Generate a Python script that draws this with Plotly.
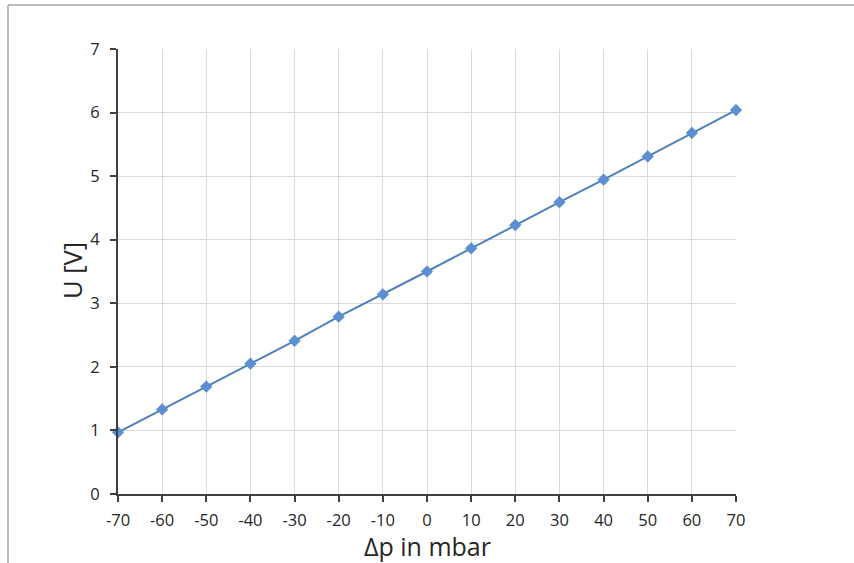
import plotly.graph_objects as go

dp_mbar = [-70, -60, -50, -40, -30, -20, -10, 0, 10, 20, 30, 40, 50, 60, 70]
u_volt = [0.97, 1.33, 1.69, 2.05, 2.41, 2.79, 3.14, 3.50, 3.865, 4.23, 4.59, 4.945, 5.31, 5.68, 6.04]
x_ticks = list(range(-70, 71, 10))
y_ticks = list(range(0, 8))
x_title = "Δp in mbar"
y_title = "U [V]"

W, H = 854, 563
ML, MR, MT, MB = 118, 118, 49, 69
pw, ph = W - ML - MR, H - MT - MB

fig = go.Figure()
fig.add_trace(go.Scatter(
    x=dp_mbar, y=u_volt, mode="lines+markers",
    line=dict(color="#4F81BD", width=2),
    marker=dict(symbol="diamond", size=9, color="#5B8FD4",
                line=dict(color="#4F81BD", width=0.5)),
    showlegend=False, cliponaxis=False,
))

font_family = "Open Sans, Liberation Sans, sans-serif"
txt = "#262626"
fig.update_layout(
    width=W, height=H,
    margin=dict(l=ML, r=MR, t=MT, b=MB, pad=0),
    paper_bgcolor="white", plot_bgcolor="white",
    font=dict(family=font_family, color=txt),
    xaxis=dict(
        range=[-70, 70], tickvals=x_ticks, ticktext=[str(v) for v in x_ticks],
        showgrid=True, gridcolor="#D9D9D9", gridwidth=1,
        showline=True, linecolor="#404040", linewidth=2,
        ticks="outside", ticklen=6, tickwidth=2, tickcolor="#404040",
        tickfont=dict(size=16.5, color=txt),
        zeroline=False, ticklabelstandoff=4,
    ),
    yaxis=dict(
        range=[0, 7], tickvals=y_ticks, ticktext=[str(v) for v in y_ticks],
        showgrid=True, gridcolor="#D9D9D9", gridwidth=1,
        showline=True, linecolor="#404040", linewidth=2,
        ticks="outside", ticklen=6, tickwidth=2, tickcolor="#404040",
        tickfont=dict(size=16.5, color=txt),
        zeroline=False, ticklabelstandoff=7,
    ),
)

# axis titles as annotations placed in pixels relative to the plot area
fig.add_annotation(text=x_title, xref="paper", yref="paper",
                   x=0.5, y=-(546 - (H - MB)) / ph, xanchor="center", yanchor="middle",
                   showarrow=False, font=dict(size=25, color=txt))
fig.add_annotation(text=y_title, xref="paper", yref="paper",
                   x=(72 - ML) / pw, y=1 - (271 - MT) / ph, xanchor="center", yanchor="middle",
                   textangle=-90, showarrow=False, font=dict(size=25.5, color=txt))

# outer chart frame (top and left edges visible)
x0 = (8 - ML) / pw
y0 = (H - 5 - MB) / ph
fig.add_shape(type="line", xref="paper", yref="paper", x0=x0, x1=1.5, y0=y0, y1=y0,
              line=dict(color="#A6A6A6", width=1.5))
fig.add_shape(type="line", xref="paper", yref="paper", x0=x0, x1=x0, y0=y0, y1=-0.5,
              line=dict(color="#A6A6A6", width=1.5))

fig.write_html("out.html", config={"displayModeBar": False},
               post_script="document.body.style.margin='0';document.body.style.overflow='hidden';")
